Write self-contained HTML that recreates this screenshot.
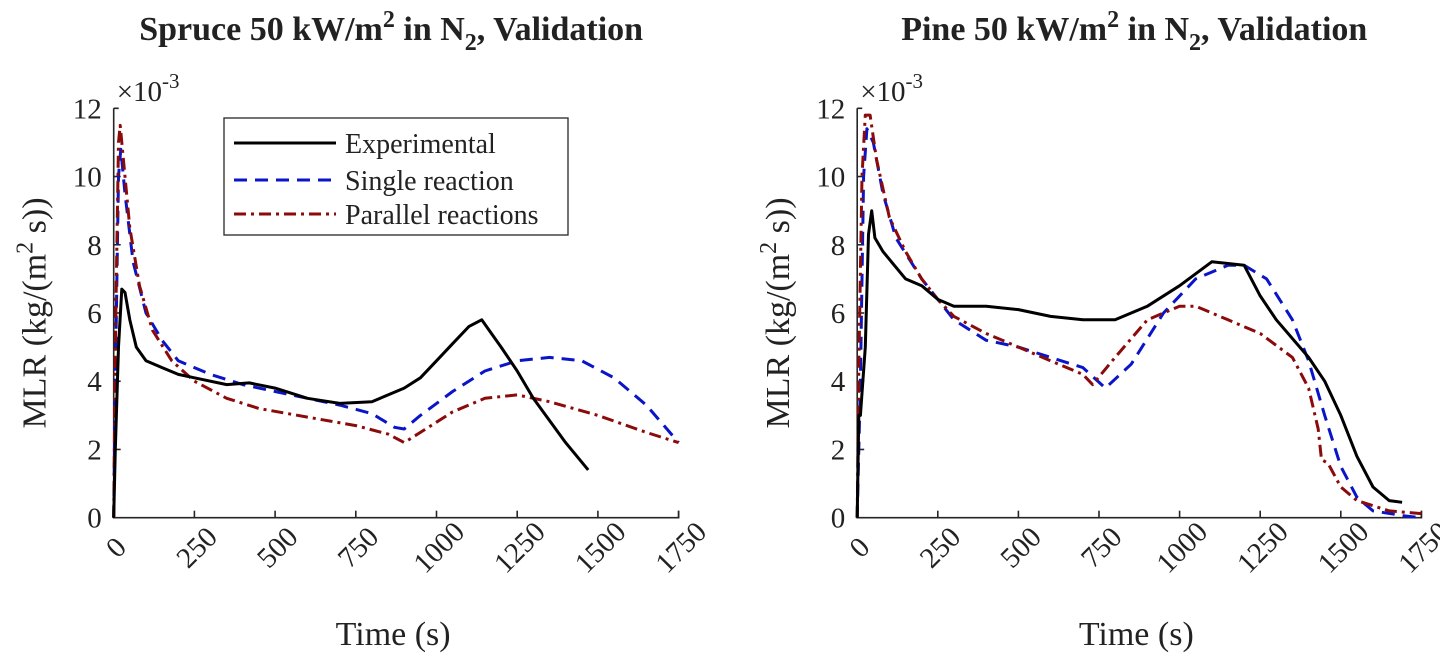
<!DOCTYPE html>
<html><head><meta charset="utf-8"><style>
body{margin:0;background:#fff}
svg text{font-family:"Liberation Serif",serif;fill:#222}
</style></head><body>
<svg id="chart" width="1440" height="654" xmlns="http://www.w3.org/2000/svg"></svg>
<script>
const xTicks=[0,250,500,750,1000,1250,1500,1750];
const yTicks=[0,2,4,6,8,10,12];
const spruceExpT=[0,5,15,25,35,50,70,100,150,200,250,350,420,500,600,700,800,850,900,950,1000,1050,1100,1140,1200,1250,1300,1400,1470];
const spruceExpV=[0,2,5,6.7,6.6,5.8,5.0,4.6,4.4,4.2,4.1,3.9,3.95,3.8,3.5,3.35,3.4,3.6,3.8,4.1,4.6,5.1,5.6,5.8,5.0,4.3,3.5,2.2,1.4];
const spruceSingleT=[0,5,15,22,35,60,100,150,200,300,400,500,600,700,800,870,900,950,1050,1150,1250,1350,1450,1550,1650,1750];
const spruceSingleV=[0,4,10,10.8,9.5,7.5,6.0,5.2,4.6,4.2,3.9,3.7,3.5,3.3,3.05,2.65,2.6,3.0,3.7,4.3,4.6,4.7,4.6,4.1,3.3,2.2];
const spruceParT=[0,5,15,20,30,50,80,120,180,250,350,450,600,750,850,900,950,1050,1150,1250,1350,1500,1650,1750];
const spruceParV=[0,5,11,11.5,10.5,8.5,6.8,5.5,4.6,4.0,3.5,3.2,2.95,2.7,2.45,2.2,2.5,3.1,3.5,3.6,3.4,3.0,2.5,2.2];
const pineExpT=[0,5,10,25,35,45,55,80,150,200,250,300,400,500,600,700,800,900,1000,1100,1200,1250,1300,1400,1450,1500,1550,1600,1650,1690];
const pineExpV=[0,3,3,5,8.3,9,8.2,7.8,7.0,6.8,6.4,6.2,6.2,6.1,5.9,5.8,5.8,6.2,6.8,7.5,7.4,6.5,5.8,4.7,4.0,3.0,1.8,0.9,0.5,0.45];
const pineSingleT=[0,10,20,30,50,80,120,200,300,400,500,600,700,770,850,950,1050,1150,1200,1270,1350,1400,1450,1500,1550,1600,1700,1750];
const pineSingleV=[0,4,10,11.4,11,9.5,8.2,7.0,5.8,5.2,5.0,4.7,4.4,3.8,4.5,6.0,7.0,7.4,7.4,7.0,5.8,4.6,3.0,1.5,0.6,0.2,0.05,0];
const pineParT=[0,5,15,25,40,60,100,150,200,250,300,400,500,600,700,730,800,900,1000,1050,1150,1250,1350,1400,1430,1440,1460,1500,1550,1650,1750];
const pineParV=[0,4.4,10,11.8,11.8,10.5,8.8,7.8,7.0,6.4,5.9,5.4,5.0,4.6,4.2,3.9,4.7,5.8,6.2,6.2,5.8,5.4,4.7,3.8,2.6,1.7,1.6,0.9,0.5,0.2,0.12];

const NS="http://www.w3.org/2000/svg";
const svg=document.getElementById('chart');
function mk(tag,attrs,parent,text){const e=document.createElementNS(NS,tag);for(const k in attrs)e.setAttribute(k,attrs[k]);if(text!==undefined)e.textContent=text;(parent||svg).appendChild(e);return e;}

function panel(id,x0,x1,titleMain,T,series){
  const y0=517.7,y1=108.3;
  const sx=v=>x0+(v/1750)*(x1-x0);
  const sy=v=>y0-(v/12)*(y0-y1);
  const g=mk('g',{});
  
  
  const cx=(x0+x1)/2-5;
  const t=mk('text',{x:cx,y:40,'text-anchor':'middle','font-size':'34','font-weight':'bold'},g);
  
  
  t.innerHTML=titleMain+' 50 kW/m<tspan dy="-13" font-size="24">2</tspan><tspan dy="13"> in N</tspan><tspan dy="10" font-size="24">2</tspan><tspan dy="-10">, Validation</tspan>';
  const ax=mk('path',{d:`M${x0},${y1}H${x0+5}M${x0},${y1}V${y0}H${x1}V${y0-7}`,stroke:'#262626','stroke-width':'1.6',fill:'none'},g);
  
  
  xTicks.forEach(v=>{
    mk('line',{x1:sx(v),x2:sx(v),y1:y0,y2:y0-7,stroke:'#262626','stroke-width':'1.6'},g);
    const lx=sx(v)+2,ly=547;
    const tl=mk('text',{x:lx,y:ly+10,'text-anchor':'middle','font-size':'29',transform:`rotate(-45 ${lx} ${ly})`},g,String(v));
    
    
  });
  yTicks.forEach(v=>{
    if(v>0&&v<12) mk('line',{x1:x0,x2:x0+7,y1:sy(v),y2:sy(v),stroke:'#262626','stroke-width':'1.6'},g);
    const tl=mk('text',{x:x0-12,y:sy(v)+10,'text-anchor':'end','font-size':'29'},g,String(v));
    
    
  });
  const ex=mk('text',{x:x0+3,y:101,'font-size':'29'},g);
  ex.innerHTML='×10<tspan dy="-13" font-size="21">-3</tspan>';
  
  
  const yl=mk('text',{x:0,y:0,'text-anchor':'middle','font-size':'34',transform:`translate(${x0-68},${(y0+y1)/2}) rotate(-90)`},g);
  yl.innerHTML='MLR (kg/(m<tspan dy="-13" font-size="24">2</tspan><tspan dy="13"> s))</tspan>';
  
  
  const xl=mk('text',{x:(x0+x1)/2-3,y:645,'text-anchor':'middle','font-size':'34'},g,'Time (s)');
  
  
  series.forEach(s=>{
    const d=s.t.map((tv,i)=>(i?'L':'M')+sx(tv).toFixed(1)+','+sy(s.v[i]).toFixed(1)).join('');
    const p=mk('path',{d,stroke:s.c,'stroke-width':'3','fill':'none','stroke-dasharray':s.dash,'stroke-linejoin':'round'},g);
    
    
  });
}
const styles={exp:['#000','none'],single:['#0a14c8','13 8'],par:['#8b0a0a','12 5 3 5']};
panel('spruce',113.7,678.6,'Spruce',null,[
 {n:'single',t:spruceSingleT,v:spruceSingleV,c:styles.single[0],dash:styles.single[1]},
 {n:'parallel',t:spruceParT,v:spruceParV,c:styles.par[0],dash:styles.par[1]},
 {n:'experimental',t:spruceExpT,v:spruceExpV,c:styles.exp[0],dash:styles.exp[1]}]);
panel('pine',857.2,1421.4,'Pine',null,[
 {n:'single',t:pineSingleT,v:pineSingleV,c:styles.single[0],dash:styles.single[1]},
 {n:'parallel',t:pineParT,v:pineParV,c:styles.par[0],dash:styles.par[1]},
 {n:'experimental',t:pineExpT,v:pineExpV,c:styles.exp[0],dash:styles.exp[1]}]);
const lg=mk('g',{});


mk('rect',{x:224,y:118,width:344,height:117,fill:'#fff',stroke:'#262626','stroke-width':'1.3'},lg);
[['Experimental','exp',143],['Single reaction','single',180],['Parallel reactions','par',214]].forEach(([lab,k,y])=>{
  const e=mk('g',{},lg);
  
  
  mk('line',{x1:234,x2:336,y1:y,y2:y,stroke:styles[k][0],'stroke-width':'3','stroke-dasharray':styles[k][1]},e);
  mk('text',{x:345,y:y+10,'font-size':'28'},e,lab);
});
</script>
</body></html>
